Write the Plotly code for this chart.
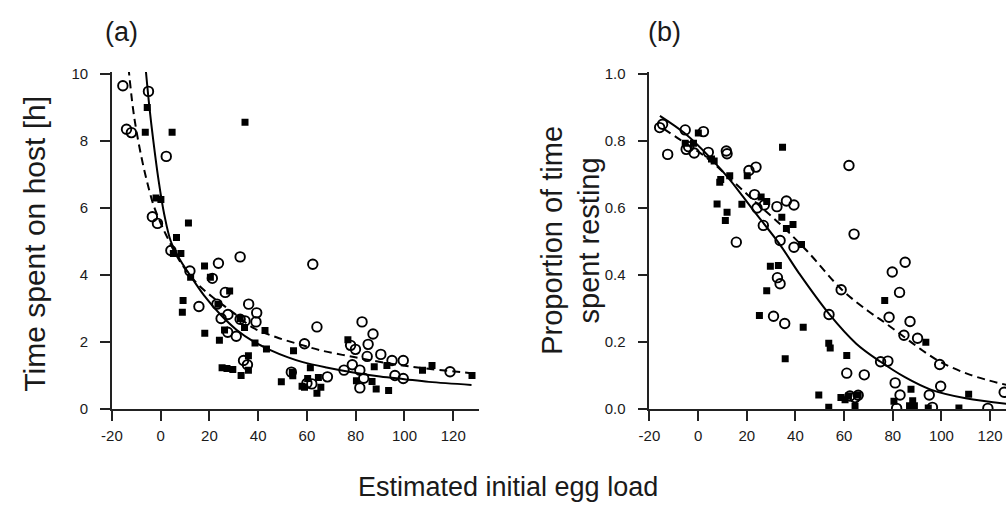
import plotly.graph_objects as go

# ---------------- Panel (a): time spent on host ----------------
a_open_x = [-15.5, -14, -12, -5, 2.3, -3.4, -1.3, 4.2, 12, 23.7, 32.6, 21.2, 26.5, 15.7, 23.1, 36.1,
            39.4, 27.6, 24.8, 39.1, 32.6, 34.6, 27.5, 31, 34, 35.6, 53.6, 59, 62.4, 64.1, 82.6, 87.1,
            85.1, 77.9, 79.9, 84.7, 90.3, 94.9, 99.5, 78.6, 75.2, 81.7, 68.4, 83.3, 81.7, 96.1, 99.5,
            118.7, 60, 62]
a_open_y = [9.65, 8.35, 8.25, 9.48, 7.54, 5.74, 5.54, 4.73, 4.12, 4.35, 4.54, 3.9, 3.48, 3.06, 3.13, 3.13,
            2.87, 2.82, 2.7, 2.6, 2.68, 2.63, 2.29, 2.17, 1.45, 1.32, 1.1, 1.95, 4.32, 2.45, 2.6, 2.24,
            1.93, 1.9, 1.78, 1.57, 1.63, 1.45, 1.45, 1.32, 1.16, 1.16, 0.96, 0.92, 0.63, 1.0, 0.91,
            1.11, 0.77, 0.75]

a_fill_x = [-6.3, 4.7, -5.5, 34.6, 11.4, -1.9, 0.1, 6.5, 5.2, 8.3, 18, 12.3, 20.4, 28.3, 9.2, 8.9,
            23.5, 18.1, 24.1, 26.2, 32.6, 34.4, 42.8, 38.7, 43.4, 36, 25.2, 27.2, 29.6, 36, 33,
            54.5, 54, 54.2, 49.5, 58, 61.4, 60.3, 64.7, 59, 65.7, 64.1, 76.8, 87.6, 80.3, 86.7,
            88.4, 93.5, 92.8, 107.4, 111.3, 127.7]
a_fill_y = [8.26, 8.26, 9.0, 8.56, 5.55, 6.3, 6.25, 5.12, 4.64, 4.64, 4.27, 3.93, 3.93, 3.52, 3.24, 2.89,
            3.13, 2.26, 2.05, 2.36, 2.7, 2.43, 2.34, 1.97, 1.79, 1.59, 1.23, 1.21, 1.18, 1.16, 1.0,
            1.74, 1.1, 0.99, 0.81, 0.68, 1.23, 0.91, 0.94, 0.65, 0.65, 0.47, 2.07, 1.26, 0.84, 0.82,
            0.6, 0.55, 1.3, 1.16, 1.3, 1.0]

a_solid_x = [-6.2, -4.6, -3, -1, 1.5, 4.2, 8, 12, 17.7, 24.5, 31.2, 38, 45, 52, 58.3, 68, 79, 90, 100, 110, 127.5]
a_solid_y = [10.2, 9.0, 8.0, 6.9, 5.8, 5.0, 4.45, 4.0, 3.4, 2.82, 2.36, 2.02, 1.76, 1.55, 1.40, 1.24, 1.09, 0.97, 0.89, 0.81, 0.72]

a_dash_x = [-13.2, -11.4, -10, -8, -5.9, -3, 0, 2.2, 8, 15, 21.1, 29.9, 38, 47.5, 57, 65.7, 79.3, 92.8, 106.3, 127.3]
a_dash_y = [10.2, 9.0, 8.33, 7.56, 6.88, 6.1, 5.55, 5.2, 4.4, 3.74, 3.35, 2.87, 2.42, 2.14, 1.93, 1.75, 1.55, 1.37, 1.23, 1.07]

# ---------------- Panel (b): proportion of time resting ----------------
b_open_x = [-15.8, -14.6, -12.5, -5.3, 2.2, -4.9, -3.9, -1.6, 4.2, 11.6, 11.9, 20.9, 23.8, 23.2, 24.2, 27.2,
            32.4, 36.3, 39.4, 26.8, 33.7, 39.4, 15.7, 32.6, 33.7, 31, 35.6, 53.8, 58.8, 64.1, 62, 79.8,
            85.1, 82.8, 78.5, 87.1, 84.6, 90.2, 75, 78, 61.1, 68.3, 81, 83, 62.4, 64.5, 65.8, 81.6,
            99.3, 95, 99.7, 96.3, 119.1, 125.8]
b_open_y = [0.84, 0.85, 0.76, 0.833, 0.828, 0.775, 0.783, 0.764, 0.766, 0.77, 0.762, 0.712, 0.722, 0.64, 0.60, 0.609,
            0.604, 0.621, 0.609, 0.548, 0.503, 0.483, 0.498, 0.392, 0.374, 0.277, 0.255, 0.282, 0.356, 0.522, 0.727, 0.409,
            0.438, 0.348, 0.274, 0.261, 0.22, 0.211, 0.141, 0.143, 0.107, 0.102, 0.078, 0.042, 0.039, 0.034, 0.041, 0.002,
            0.133, 0.042, 0.068, 0.005, 0.002, 0.05]

b_fill_x = [0.1, -5.3, -1.9, 5.5, 6.6, 8.9, 9.3, 13, 7.8, 11.9, 11.2, 18, 20.2, 34.7, 25.9, 28.2,
            34.4, 39, 36.3, 42.5, 29.7, 33.0, 28.2, 25.2, 35.8, 43.2, 53.7, 54.3, 49.6, 53.7, 58.7,
            61.1, 76.7, 60.4, 61.8, 64.5, 65.8, 80.5, 87.5, 88.2, 86.9, 88.9, 93.6, 94.6, 111.2, 107.2]
b_fill_y = [0.824, 0.793, 0.793, 0.746, 0.74, 0.677, 0.685, 0.696, 0.612, 0.587, 0.563, 0.611, 0.696, 0.781, 0.633, 0.619,
            0.572, 0.551, 0.539, 0.491, 0.426, 0.428, 0.353, 0.279, 0.15, 0.244, 0.196, 0.182, 0.042, 0.005, 0.034,
            0.16, 0.324, 0.028, 0.039, 0.008, 0.042, 0.023, 0.059, 0.025, 0.01, 0.01, 0.199, 0.003, 0.044, 0.003]

b_solid_x = [-15.7, -5, 5.5, 13, 22.5, 33.7, 41.5, 53.9, 65, 75, 85, 95.6, 110, 126.6]
b_solid_y = [0.875, 0.82, 0.746, 0.685, 0.595, 0.49, 0.405, 0.283, 0.195, 0.141, 0.095, 0.058, 0.032, 0.016]

b_dash_x = [-14.1, -8.7, 3.5, 14.3, 24, 34.7, 45, 59.1, 70, 76.7, 84.7, 91.6, 99.7, 111.9, 126.6]
b_dash_y = [0.836, 0.81, 0.75, 0.68, 0.615, 0.545, 0.47, 0.356, 0.292, 0.258, 0.215, 0.178, 0.14, 0.102, 0.072]

x_ticks = [-20, 0, 20, 40, 60, 80, 100, 120]
x_tick_text = ["-20", "0", "20", "40", "60", "80", "100", "120"]
a_y_ticks = [0, 2, 4, 6, 8, 10]
b_y_ticks = [0.0, 0.2, 0.4, 0.6, 0.8, 1.0]
b_y_tick_text = ["0.0", "0.2", "0.4", "0.6", "0.8", "1.0"]

FONT = "Liberation Sans, Arial, sans-serif"
INK = "#1a1a1a"
W, H = 1006, 518

open_marker = dict(symbol="circle-open", size=9.5, color="black", line=dict(width=1.9, color="black"))
fill_marker = dict(symbol="square", size=7, color="black", line=dict(width=0))

fig = go.Figure()
for (xa, ya, ox, oy, fx, fy, sx, sy, dx, dy) in [
    ("x", "y", a_open_x, a_open_y, a_fill_x, a_fill_y, a_solid_x, a_solid_y, a_dash_x, a_dash_y),
    ("x2", "y2", b_open_x, b_open_y, b_fill_x, b_fill_y, b_solid_x, b_solid_y, b_dash_x, b_dash_y),
]:
    fig.add_trace(go.Scatter(x=dx, y=dy, mode="lines", line=dict(color="black", width=2, dash="8px,5px", shape="spline"),
                             xaxis=xa, yaxis=ya, showlegend=False, hoverinfo="skip"))
    fig.add_trace(go.Scatter(x=sx, y=sy, mode="lines", line=dict(color="black", width=2, shape="spline"),
                             xaxis=xa, yaxis=ya, showlegend=False, hoverinfo="skip"))
    fig.add_trace(go.Scatter(x=fx, y=fy, mode="markers", marker=fill_marker, xaxis=xa, yaxis=ya, showlegend=False))
    fig.add_trace(go.Scatter(x=ox, y=oy, mode="markers", marker=open_marker, xaxis=xa, yaxis=ya, showlegend=False))

axis_common = dict(showline=True, linecolor="#222", linewidth=1.6, ticks="outside", ticklen=10, tickwidth=1.6,
                   tickcolor="#222", showgrid=False, zeroline=False, tickfont=dict(family=FONT, size=15, color=INK))

y_dom = [(H - 414) / H, (H - 66.9) / H]
fig.update_layout(
    width=W, height=H, margin=dict(l=0, r=0, t=0, b=0),
    paper_bgcolor="white", plot_bgcolor="white",
    xaxis=dict(domain=[102 / W, 473 / W], range=[-20, 130.5], tickvals=x_ticks, ticktext=x_tick_text,
               anchor="y", ticklabelstandoff=2, **axis_common),
    yaxis=dict(domain=y_dom, range=[0, 10.06], tickvals=a_y_ticks, anchor="x", ticklabelstandoff=9, **axis_common),
    xaxis2=dict(domain=[645.5 / W, 1.0], range=[-20, 126.55], tickvals=x_ticks, ticktext=x_tick_text,
                anchor="y2", ticklabelstandoff=2, **axis_common),
    yaxis2=dict(domain=y_dom, range=[0, 1.006], tickvals=b_y_ticks, ticktext=b_y_tick_text, anchor="x2",
                ticklabelstandoff=9, **axis_common),
)

def ann(text, x, y, size=23, angle=0):
    fig.add_annotation(text=text, x=x / W, y=1 - y / H, xref="paper", yref="paper", showarrow=False,
                       xanchor="center", yanchor="middle", textangle=angle,
                       font=dict(family=FONT, size=size, color=INK))

ann("(a)", 112, 26, size=27)
ann("(b)", 661, 26, size=27)
ann("Time spent on host [h]", 24, 244, size=30, angle=-90)
ann("Proportion of time<br>spent resting", 566, 240, size=29, angle=-90)
ann("Estimated initial egg load", 502, 494, size=27)

fig.write_html("out.html")
